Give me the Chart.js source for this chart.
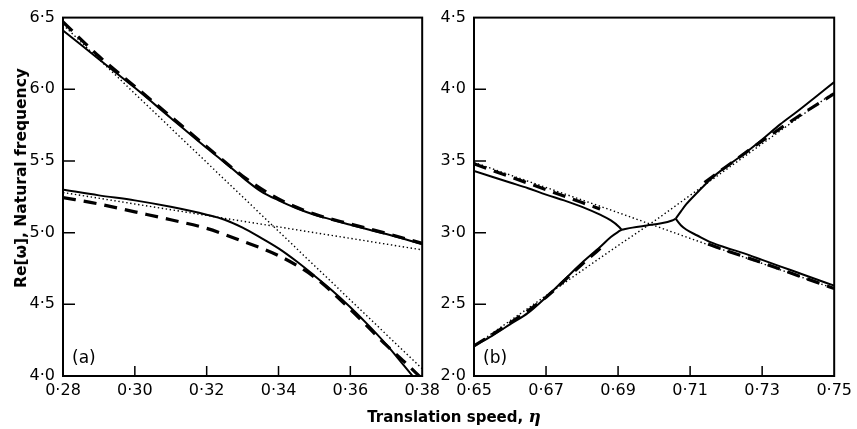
<!DOCTYPE html>
<html>
<head>
<meta charset="utf-8">
<script src="https://cdn.jsdelivr.net/npm/chart.js@4.4.1/dist/chart.umd.min.js"></script>
<style>
  body { margin: 0; background: #fff; }
  #wrap { position: relative; width: 857px; height: 429px; }
  #cA { position: absolute; left: 0; top: 0; }
  #cB { position: absolute; left: 430px; top: 0; }
  #xTitle {
    position: absolute; left: 454px; top: 406px; transform: translateX(-50%);
    font: bold 15px "DejaVu Sans", sans-serif; color: #000; white-space: nowrap;
  }
  #xTitle i { font-family: "DejaVu Serif", serif; font-size: 17px; }
  #yTitle {
    position: absolute; left: 21px; top: 178px; transform: translate(-50%, -50%) rotate(-90deg);
    font: bold 15.5px "DejaVu Sans", sans-serif; color: #000; white-space: nowrap;
  }
</style>
</head>
<body>
<div id="wrap">
  <canvas id="cA" width="445" height="429"></canvas>
  <canvas id="cB" width="427" height="429"></canvas>
  <div id="yTitle">Re[ω], Natural frequency</div>
  <div id="xTitle">Translation speed, <i>η</i></div>
</div>
<script>
// tick values
const xTicksA = [0.28, 0.30, 0.32, 0.34, 0.36, 0.38]
const yTicksA = [4.0, 4.5, 5.0, 5.5, 6.0, 6.5]
const xTicksB = [0.65, 0.67, 0.69, 0.71, 0.73, 0.75]
const yTicksB = [2.0, 2.5, 3.0, 3.5, 4.0, 4.5]

// panel (a) curves, [eta, Re(omega)]
const solidUpperA = [[0.28, 6.41], [0.29, 6.21], [0.30, 6.01], [0.31, 5.80], [0.32, 5.59], [0.325, 5.49],
    [0.33, 5.385], [0.335, 5.29], [0.34, 5.225], [0.345, 5.17], [0.35, 5.125], [0.355, 5.09],
    [0.36, 5.055], [0.37, 4.99], [0.38, 4.92]]
const solidLowerA = [[0.28, 5.30], [0.29, 5.26], [0.30, 5.225], [0.31, 5.18], [0.32, 5.125], [0.325, 5.09],
    [0.33, 5.035], [0.335, 4.965], [0.34, 4.89], [0.345, 4.80], [0.35, 4.70], [0.355, 4.595],
    [0.36, 4.48], [0.365, 4.355], [0.37, 4.22], [0.375, 4.07], [0.38, 3.92]]
const dashUpperA = [[0.28, 6.47], [0.29, 6.23], [0.30, 6.02], [0.31, 5.81], [0.32, 5.60], [0.33, 5.395],
    [0.34, 5.235], [0.35, 5.13], [0.36, 5.06], [0.37, 4.995], [0.38, 4.925]]
const dashLowerA = [[0.28, 5.245], [0.29, 5.20], [0.30, 5.145], [0.31, 5.09], [0.32, 5.03], [0.33, 4.94],
    [0.34, 4.84], [0.35, 4.69], [0.36, 4.465], [0.37, 4.215], [0.375, 4.10], [0.38, 3.98]]
const dotSteepA = [[0.28, 6.45], [0.30, 5.97], [0.32, 5.49], [0.34, 5.01], [0.36, 4.53], [0.38, 4.05]]
const dotFlatA = [[0.28, 5.28], [0.30, 5.20], [0.32, 5.12], [0.34, 5.04], [0.36, 4.96], [0.38, 4.88]]

// panel (b) curves
const solidB1 = [[0.65, 3.43], [0.655, 3.39], [0.66, 3.35], [0.665, 3.31], [0.67, 3.265], [0.675, 3.225],
    [0.68, 3.18], [0.685, 3.125], [0.688, 3.085], [0.6903, 3.04], [0.691, 3.02]]
const solidB2 = [[0.65, 2.21], [0.655, 2.28], [0.66, 2.36], [0.665, 2.44], [0.67, 2.55], [0.675, 2.67],
    [0.68, 2.79], [0.685, 2.90], [0.688, 2.97], [0.690, 3.005], [0.691, 3.02]]
const bridgeB = [[0.691, 3.02], [0.694, 3.035], [0.698, 3.05], [0.702, 3.065], [0.705, 3.085], [0.706, 3.097]]
const solidB3 = [[0.706, 3.097], [0.7075, 3.15], [0.709, 3.20], [0.712, 3.28], [0.716, 3.38], [0.72, 3.46],
    [0.725, 3.55], [0.73, 3.65], [0.735, 3.755], [0.74, 3.85], [0.745, 3.95], [0.75, 4.05]]
const solidB4 = [[0.706, 3.097], [0.7075, 3.05], [0.709, 3.02], [0.712, 2.98], [0.716, 2.93], [0.72, 2.895],
    [0.725, 2.855], [0.73, 2.81], [0.735, 2.765], [0.74, 2.72], [0.745, 2.675], [0.75, 2.63]]
const dashB1 = [[0.65, 3.48], [0.66, 3.39], [0.67, 3.30], [0.68, 3.21], [0.685, 3.165]]
const dashB2 = [[0.715, 2.92], [0.72, 2.875], [0.73, 2.79], [0.74, 2.70], [0.75, 2.61]]
const dashB3 = [[0.65, 2.21], [0.66, 2.37], [0.67, 2.55], [0.68, 2.78], [0.686, 2.91]]
const dashB4 = [[0.714, 3.35], [0.72, 3.46], [0.73, 3.64], [0.74, 3.81], [0.75, 3.97]]
const dotDownB = [[0.65, 3.49], [0.67, 3.315], [0.69, 3.14], [0.70, 3.05], [0.71, 2.96], [0.73, 2.785], [0.75, 2.61]]
const dotUpB = [[0.65, 2.21], [0.67, 2.56], [0.69, 2.91], [0.70, 3.08], [0.71, 3.26], [0.73, 3.62], [0.75, 3.98]]

const FONT = 'DejaVu Sans'

function fmt(v, d) {
    return v.toFixed(d).replace('.', '·')
}

function solid(pts) {
    return { data: pts.map(p => ({ x: p[0], y: p[1] })), borderColor: '#000', borderWidth: 2,
        pointRadius: 0, fill: false, cubicInterpolationMode: 'monotone' }
}
function dashed(pts) {
    return { data: pts.map(p => ({ x: p[0], y: p[1] })), borderColor: '#000', borderWidth: 3.2,
        borderDash: [13, 8], pointRadius: 0, fill: false, cubicInterpolationMode: 'monotone' }
}
function dotted(pts) {
    return { data: pts.map(p => ({ x: p[0], y: p[1] })), borderColor: '#000', borderWidth: 1.4,
        borderDash: [1.4, 2.6], pointRadius: 0, fill: false, cubicInterpolationMode: 'monotone' }
}

// box, inward ticks and panel label
const frame = {
    id: 'frame',
    afterDraw(chart, args, opts) {
        const ctx = chart.ctx
        const a = chart.chartArea
        const sx = chart.scales.x
        const sy = chart.scales.y
        ctx.save()
        ctx.strokeStyle = '#000'
        ctx.lineWidth = 2
        ctx.strokeRect(a.left, a.top, a.right - a.left, a.bottom - a.top)
        ctx.lineWidth = 1.5
        ctx.beginPath()
        sx.ticks.forEach(t => {
            const px = sx.getPixelForValue(t.value)
            if (px > a.left + 2 && px < a.right - 2) {
                ctx.moveTo(px, a.bottom)
                ctx.lineTo(px, a.bottom - 10)
            }
        })
        sy.ticks.forEach(t => {
            const py = sy.getPixelForValue(t.value)
            if (py > a.top + 2 && py < a.bottom - 2) {
                ctx.moveTo(a.left, py)
                ctx.lineTo(a.left + 12, py)
            }
        })
        ctx.stroke()
        ctx.fillStyle = '#000'
        ctx.font = '17px "' + FONT + '"'
        ctx.textBaseline = 'middle'
        ctx.fillText(opts.label, a.left + 9, a.bottom - 17)
        ctx.restore()
    }
}

function makeChart(id, datasets, xTicks, yTicks, label, yWidth, padRight) {
    return new Chart(document.getElementById(id), {
        type: 'line',
        data: { datasets: datasets },
        plugins: [frame],
        options: {
            responsive: false,
            animation: false,
            layout: { padding: { top: 16, right: padRight, bottom: 23, left: 0 } },
            plugins: {
                legend: { display: false },
                tooltip: { enabled: false },
                frame: { label: label }
            },
            scales: {
                x: {
                    type: 'linear',
                    min: xTicks[0],
                    max: xTicks[xTicks.length - 1],
                    afterBuildTicks: s => { s.ticks = xTicks.map(v => ({ value: v })) },
                    afterFit: s => { s.height = 30 },
                    grid: { display: false, drawTicks: false },
                    border: { display: false },
                    ticks: {
                        autoSkip: false, maxRotation: 0, padding: 5, color: '#000',
                        font: { family: FONT, size: 16 },
                        callback: v => fmt(v, 2)
                    }
                },
                y: {
                    min: yTicks[0],
                    max: yTicks[yTicks.length - 1],
                    afterBuildTicks: s => { s.ticks = yTicks.map(v => ({ value: v })) },
                    afterFit: s => { s.width = yWidth },
                    grid: { display: false, drawTicks: false },
                    border: { display: false },
                    ticks: {
                        autoSkip: false, padding: 8, color: '#000',
                        font: { family: FONT, size: 16 },
                        callback: v => fmt(v, 1)
                    }
                }
            }
        }
    })
}

makeChart('cA', [
    solid(solidUpperA), solid(solidLowerA),
    dashed(dashUpperA), dashed(dashLowerA),
    dotted(dotSteepA), dotted(dotFlatA)
], xTicksA, yTicksA, '(a)', 63, 22)

makeChart('cB', [
    solid(solidB1), solid(solidB2), solid(bridgeB), solid(solidB3), solid(solidB4),
    dashed(dashB1), dashed(dashB2), dashed(dashB3), dashed(dashB4),
    dotted(dotDownB), dotted(dotUpB)
], xTicksB, yTicksB, '(b)', 44, 20)
</script>
</body>
</html>
